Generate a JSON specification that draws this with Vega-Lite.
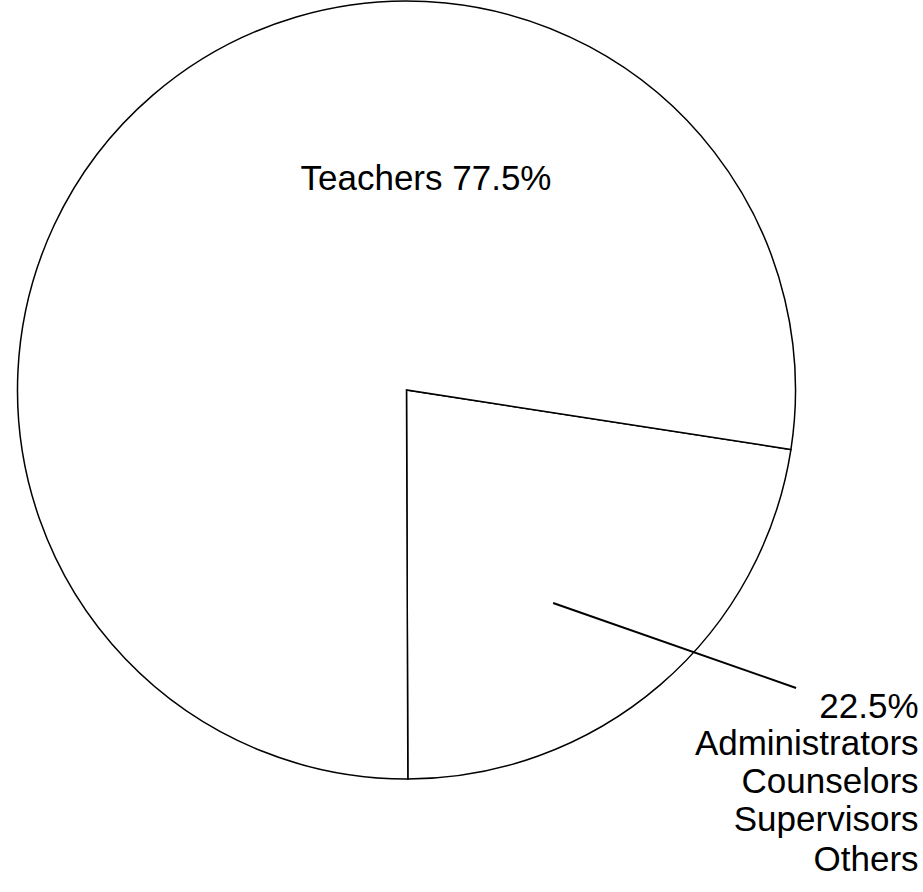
{
  "$schema": "https://vega.github.io/schema/vega-lite/v6.json",
  "width": 923,
  "height": 892,
  "autosize": {"type": "none"},
  "padding": 0,
  "background": "white",
  "config": {"view": {"stroke": null}},
  "datasets": {
    "slices": [
      {"group": "Others", "share": 22.5, "ord": 1},
      {"group": "Teachers", "share": 77.5, "ord": 2}
    ],
    "mainLabel": [
      {"text": "Teachers 77.5%", "x": 5.0, "y": 51.3}
    ],
    "sideLabels": [
      {"text": "22.5%", "x": 131.3, "y": -84.0},
      {"text": "Administrators", "x": 131.3, "y": -93.5},
      {"text": "Counselors", "x": 131.3, "y": -103.3},
      {"text": "Supervisors", "x": 131.3, "y": -113.0},
      {"text": "Others", "x": 131.3, "y": -123.3}
    ],
    "leader": [
      {"x": 37.6, "y": -54.6, "x2": 99.9, "y2": -76.4}
    ]
  },
  "layer": [
    {
      "data": {"name": "slices"},
      "mark": {"type": "arc", "outerRadius": 389, "fill": "white", "stroke": "black", "strokeWidth": 1.5},
      "encoding": {
        "theta": {"field": "share", "type": "quantitative", "stack": true, "scale": {"range": [1.7244, 8.0076]}},
        "order": {"field": "ord", "type": "quantitative"},
        "x": {"datum": 0, "type": "quantitative", "scale": {"domain": [-104.23, 132.44], "nice": false, "zero": false}, "axis": null},
        "y": {"datum": 0, "type": "quantitative", "scale": {"domain": [-128.72, 100], "nice": false, "zero": false}, "axis": null}
      }
    },
    {
      "data": {"name": "leader"},
      "mark": {"type": "rule", "stroke": "black", "strokeWidth": 2},
      "encoding": {
        "x": {"field": "x", "type": "quantitative", "scale": {"domain": [-104.23, 132.44], "nice": false, "zero": false}, "axis": null},
        "y": {"field": "y", "type": "quantitative", "scale": {"domain": [-128.72, 100], "nice": false, "zero": false}, "axis": null},
        "x2": {"field": "x2"},
        "y2": {"field": "y2"}
      }
    },
    {
      "data": {"name": "mainLabel"},
      "mark": {"type": "text", "align": "center", "baseline": "alphabetic", "font": "Liberation Sans", "fontSize": 35, "fill": "black"},
      "encoding": {
        "x": {"field": "x", "type": "quantitative", "scale": {"domain": [-104.23, 132.44], "nice": false, "zero": false}, "axis": null},
        "y": {"field": "y", "type": "quantitative", "scale": {"domain": [-128.72, 100], "nice": false, "zero": false}, "axis": null},
        "text": {"field": "text"}
      }
    },
    {
      "data": {"name": "sideLabels"},
      "mark": {"type": "text", "align": "right", "baseline": "alphabetic", "font": "Liberation Sans", "fontSize": 35, "fill": "black"},
      "encoding": {
        "x": {"field": "x", "type": "quantitative", "scale": {"domain": [-104.23, 132.44], "nice": false, "zero": false}, "axis": null},
        "y": {"field": "y", "type": "quantitative", "scale": {"domain": [-128.72, 100], "nice": false, "zero": false}, "axis": null},
        "text": {"field": "text"}
      }
    }
  ]
}
